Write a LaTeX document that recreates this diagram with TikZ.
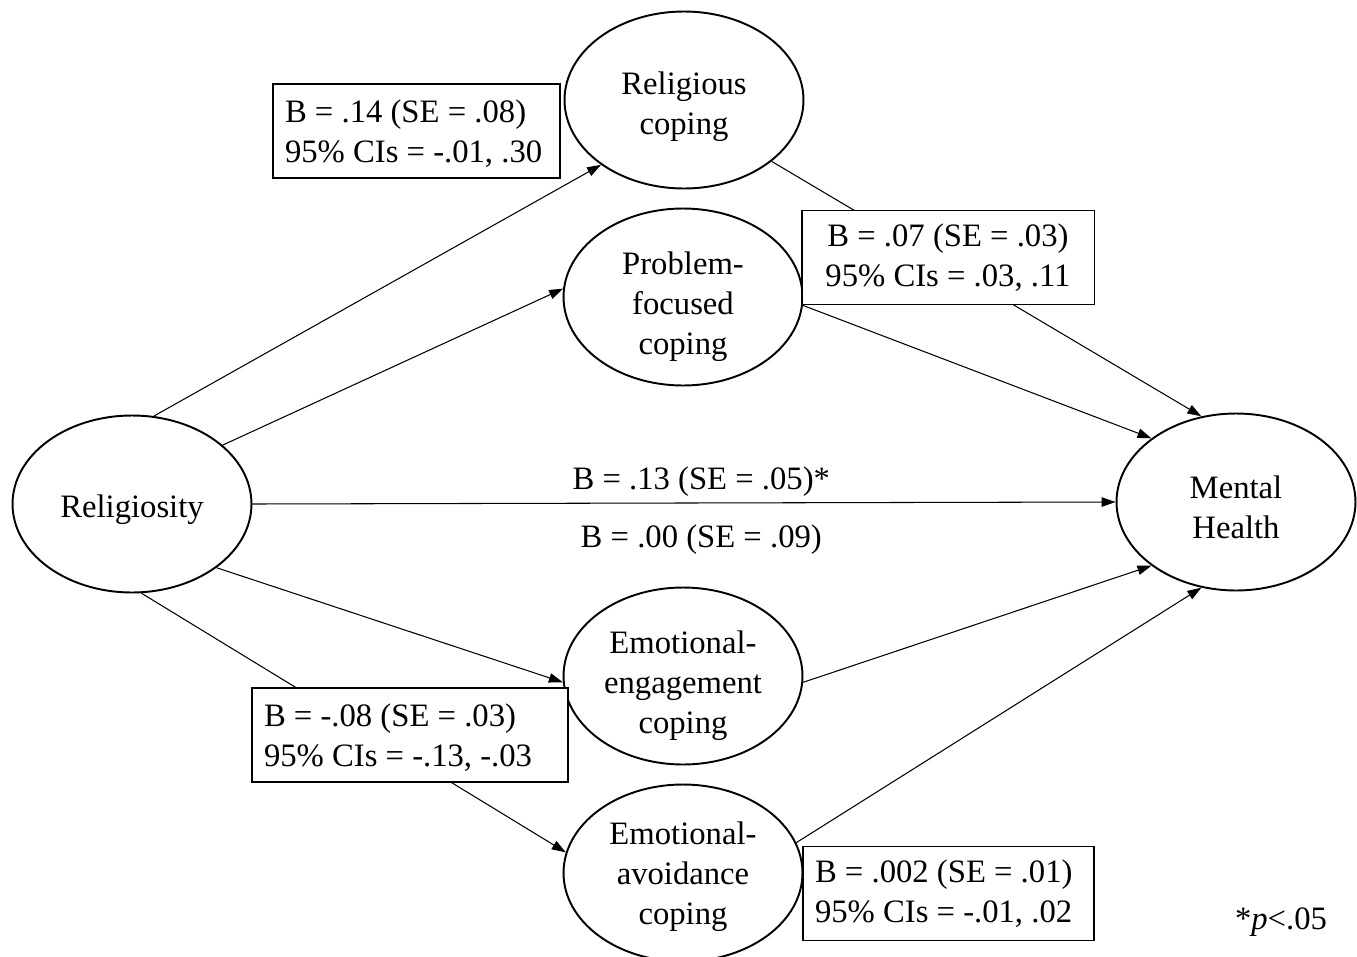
\documentclass[tikz,border=0pt]{standalone}
\usepackage{fontspec}
\setmainfont{Liberation Serif}
\usetikzlibrary{shapes.geometric,arrows.meta}

\newcommand{\vpad}[1]{\rule{0pt}{#1}}

\begin{document}
\begin{tikzpicture}[x=0.02cm,y=-0.02cm,
    font=\fontsize{18.6pt}{22.8pt}\selectfont,
    >={Triangle[length=0.28cm,width=0.19cm]}]
  \tikzstyle{every variable}=[ellipse,draw,line width=1.1pt,minimum width=4.78cm,minimum height=3.54cm,inner xsep=0pt,inner ysep=-10pt,align=center]
  \tikzstyle{every link}=[->,line width=0.6pt]
  \tikzstyle{every coef}=[draw,fill=white,line width=1.1pt,minimum height=1.88cm,inner xsep=0.24cm,align=flush left]

  \useasboundingbox (0,0) rectangle (1357,957);

  % Predictor and outcome
  \node[every variable] (Rel) at (132,504) {\vpad{19pt}Religiosity};
  \node[every variable] (MH) at (1236,502) {\vpad{19pt}Mental\\Health};

  % Mediators (coping styles)
  \node[every variable] (M-1) at (684,100) {\vpad{21pt}Religious\\coping};
  \node[every variable] (M-2) at (683,297) {\vpad{24pt}Problem-\\focused\\coping};
  \node[every variable] (M-3) at (683,676) {\vpad{24pt}Emotional-\\engagement\\coping};
  \node[every variable] (M-4) at (683,873) {\vpad{17pt}Emotional-\\avoidance\\coping};

  % Paths: Religiosity to mediators
  \draw[every link] (Rel.76.7) -- (M-1.-142.3);
  \draw[every link] (Rel.33.3) -- (M-2.176.6);
  \draw[every link] (Rel.-37.1) -- (M-3.-177.1);
  \draw[every link] (Rel.-84.9) -- (M-4.170.4);

  % Direct path
  \draw[every link] (Rel.east) -- node[above,pos=0.52] {B = .13 (SE = .05)*}
    node[below,pos=0.52,yshift=-9pt] {B = .00 (SE = .09)} (MH.west);

  % Paths: mediators to Mental Health
  \draw[every link] (M-1.-35.2) -- (MH.112.5);
  \draw[every link] (M-2.-4.8) -- (MH.143.3);
  \draw[every link] (M-3.-3.3) -- (MH.-143.8);
  \draw[every link] (M-4.15.1) -- (MH.-112.2);

  % Indirect effects
  \node[every coef,text width=5.26cm] (C-1) at (416.5,131) {\vpad{16pt}B = .14 (SE = .08)\\95\% CIs = -.01, .30};
  \node[every coef,text width=5.38cm,align=flush center] (C-2) at (948,257.5) {B = .07 (SE = .03)\\95\% CIs = .03, .11};
  \node[every coef,text width=5.84cm] (C-3) at (410,735) {\vpad{16pt}B = -.08 (SE = .03)\\95\% CIs = -.13, -.03};
  \node[every coef,text width=5.34cm] (C-4) at (948.5,893.5) {B = .002 (SE = .01)\\95\% CIs = -.01, .02};

  \node (note) at (1281,922) {*\textit{p}<.05};
\end{tikzpicture}
\end{document}
